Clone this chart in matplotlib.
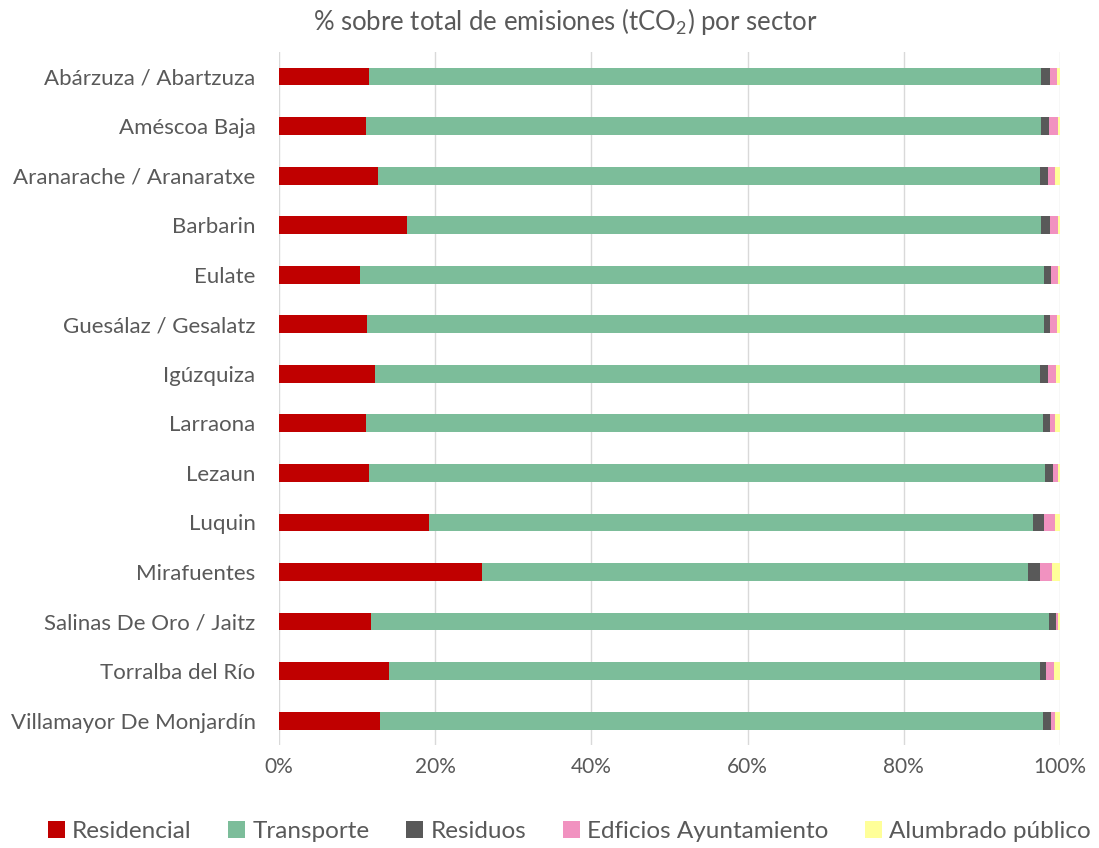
import matplotlib
matplotlib.use("Agg")
import matplotlib.pyplot as plt
import numpy as np
from matplotlib.ticker import FuncFormatter

categories = ["Abárzuza / Abartzuza", "Améscoa Baja", "Aranarache / Aranaratxe", "Barbarin",
              "Eulate", "Guesálaz / Gesalatz", "Igúzquiza", "Larraona", "Lezaun", "Luquin",
              "Mirafuentes", "Salinas De Oro / Jaitz", "Torralba del Río", "Villamayor De Monjardín"]

residencial = [11.5, 11.1, 12.7, 16.4, 10.4, 11.3, 12.3, 11.1, 11.5, 19.2, 26.0, 11.8, 14.1, 12.9]
transporte  = [86.1, 86.5, 84.7, 81.2, 87.6, 86.6, 85.1, 86.7, 86.6, 77.3, 69.9, 86.8, 83.3, 84.9]
residuos    = [1.1, 1.0, 1.1, 1.1, 0.8, 0.8, 1.1, 0.9, 1.0, 1.5, 1.6, 0.9, 0.8, 1.0]
edificios   = [0.9, 1.1, 0.9, 1.0, 0.9, 0.9, 1.0, 0.7, 0.7, 1.4, 1.5, 0.3, 1.0, 0.5]
alumbrado   = [0.4, 0.3, 0.6, 0.3, 0.3, 0.4, 0.5, 0.6, 0.2, 0.6, 1.0, 0.2, 0.8, 0.7]

series_names = ["Residencial", "Transporte", "Residuos", "Edficios Ayuntamiento", "Alumbrado público"]
colors = ["#C00000", "#7CBD9A", "#595959", "#F192C0", "#FFFF99"]
x_ticks = [0, 20, 40, 60, 80, 100]

plt.rcParams['font.family'] = ['Lato', 'DejaVu Sans']
plt.rcParams['mathtext.fontset'] = 'custom'
plt.rcParams['mathtext.rm'] = 'Lato'
plt.rcParams['mathtext.it'] = 'Lato'
text_color = "#595959"

fig = plt.figure(figsize=(10.99, 8.48), dpi=100)
ax = fig.add_axes([0.254, 0.121, 0.7105, 0.818])

data = [residencial, transporte, residuos, edificios, alumbrado]
y = np.arange(len(categories))
left = np.zeros(len(categories))
handles = []
for vals, name, c in zip(data, series_names, colors):
    v = np.array(vals)
    h = ax.barh(y, v, left=left, height=0.36, color=c, label=name, zorder=3)
    handles.append(h)
    left += v

ax.set_ylim(len(categories) - 0.5, -0.5)
ax.set_xlim(0, 100)
ax.set_yticks(y)
ax.set_yticklabels(categories, fontsize=16, color=text_color)
ax.set_xticks(x_ticks)
ax.xaxis.set_major_formatter(FuncFormatter(lambda v, p: f"{int(v)}%"))
ax.tick_params(axis='x', labelsize=15, labelcolor=text_color, length=0, pad=8)
ax.tick_params(axis='y', length=0, pad=17)
ax.grid(axis='x', color="#D9D9D9", linewidth=1, zorder=0)
for s in ax.spines.values():
    s.set_visible(False)

fig.text(0.514, 0.975, "% sobre total de emisiones (tCO$_2$) por sector", ha='center', va='center',
         fontsize=18.5, color=text_color)

fig.legend(handles=handles, labels=series_names, loc='center', bbox_to_anchor=(0.518, 0.02),
           ncol=5, frameon=False, fontsize=17.5, labelcolor=text_color,
           handlelength=0.7, handleheight=0.7, handletextpad=0.3, columnspacing=1.5)

fig.savefig("out.png", dpi=100)
